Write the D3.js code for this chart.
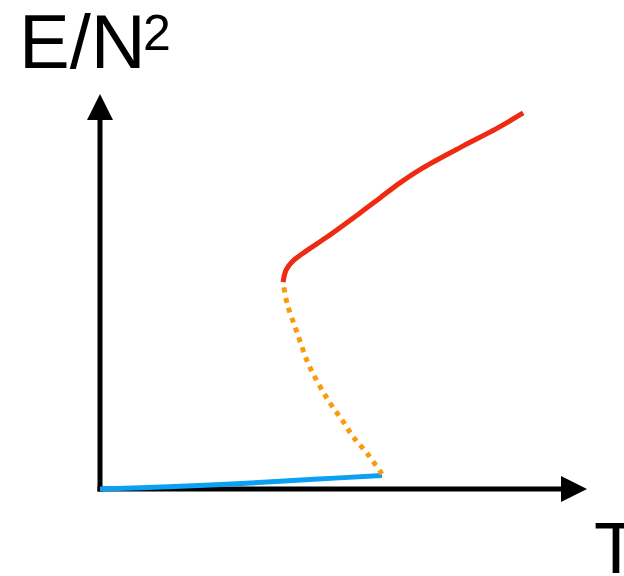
<!DOCTYPE html>
<html><head><meta charset="utf-8">
<script src="https://cdn.jsdelivr.net/npm/d3@7"></script>
<style>html,body{margin:0;padding:0;background:#fff;}svg{display:block;}</style>
</head><body>
<svg id="c" width="624" height="576"></svg>
<script>
// Data (arbitrary units: T along x, E/N^2 along y)
const lowT = [0, 14, 29, 43, 57.9];
const lowE = [0, 0.6, 1.4, 2.4, 3.4];
const midT = [57.9, 54.8, 52.0, 49.7, 47.2, 44.8, 42.7, 40.5, 38.4, 37.6];
const midE = [3.8, 9.1, 13.2, 17.5, 21.8, 26.8, 31.9, 39.5, 47.1, 52.4];
const highT = [37.6, 38.2, 39.6, 41.7, 46.6, 53.4, 57.5, 61.6, 66.3, 74.5, 81.5, 86.9];
const highE = [52.4, 55.4, 57.7, 59.7, 63.8, 69.9, 73.7, 77.5, 81.3, 86.8, 91.3, 95.2];
const xLabel = "T";
const yLabel = "E/N";
const yLabelSup = "2";

const svg = d3.select("#c");
const x = d3.scaleLinear().domain([0, 100]).range([100, 587]);
const y = d3.scaleLinear().domain([0, 100]).range([489, 94]);

// Axes
const ax = svg.append("g");
ax.append("line").attr("x1", x(0)).attr("y1", y(0)).attr("x2", x(0)).attr("y2", y(100) + 24)
  .attr("stroke", "#000").attr("stroke-width", 5).attr("stroke-linecap", "square");
ax.append("line").attr("x1", x(0)).attr("y1", y(0)).attr("x2", x(100) - 24).attr("y2", y(0))
  .attr("stroke", "#000").attr("stroke-width", 5).attr("stroke-linecap", "square");
ax.append("path")
  .attr("d", `M${x(0)},${y(100)} L${x(0) + 13},${y(100) + 26} L${x(0) - 13},${y(100) + 26} Z`)
  .attr("fill", "#000");
ax.append("path")
  .attr("d", `M${x(100)},${y(0)} L${x(100) - 26},${y(0) - 13} L${x(100) - 26},${y(0) + 13} Z`)
  .attr("fill", "#000");

const line = d3.line().x(d => x(d[0])).y(d => y(d[1])).curve(d3.curveCatmullRom.alpha(0.5));
const zip = (a, b) => a.map((v, i) => [v, b[i]]);

svg.append("path").attr("d", line(zip(lowT, lowE)))
  .attr("fill", "none").attr("stroke", "#0ca0f2").attr("stroke-width", 5);
svg.append("path").attr("d", line(zip(midT, midE)))
  .attr("fill", "none").attr("stroke", "#fb9a0c").attr("stroke-width", 5)
  .attr("stroke-dasharray", "5,5.4");
svg.append("path").attr("d", line(zip(highT, highE)))
  .attr("fill", "none").attr("stroke", "#ee2a12").attr("stroke-width", 5)
  .attr("stroke-linecap", "butt");

// Labels
const font = "'Liberation Sans', Arial, Helvetica, sans-serif";
svg.append("text").attr("x", 19).attr("y", 68).attr("font-family", font).attr("font-size", 76)
  .attr("fill", "#000").text(yLabel);
svg.append("text").attr("x", 143).attr("y", 50).attr("font-family", font).attr("font-size", 50)
  .attr("fill", "#000").text(yLabelSup);
svg.append("text").attr("x", 594).attr("y", 573).attr("font-family", font).attr("font-size", 72)
  .attr("fill", "#000").text(xLabel);
</script>
</body></html>
